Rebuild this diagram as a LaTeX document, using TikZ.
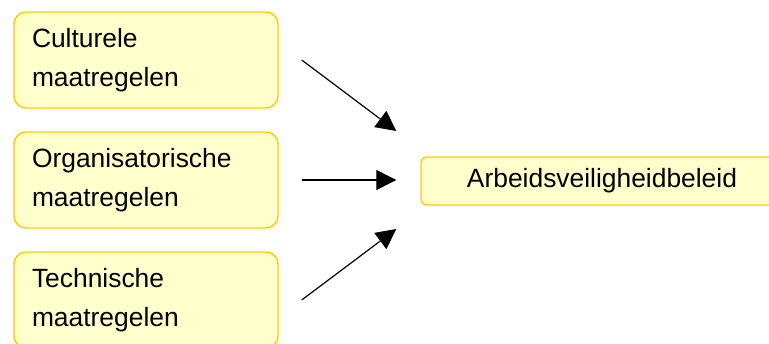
\documentclass[tikz,border=0pt]{standalone}
\usepackage{fontspec}
\setmainfont{Liberation Sans}
\usepackage{tikz}
\usetikzlibrary{arrows.meta}
\definecolor{boxfill}{RGB}{255,255,204}
\definecolor{boxline}{RGB}{255,204,0}

\begin{document}
\begin{tikzpicture}[x=1pt, y=-1pt, every node/.style={draw=boxline, fill=boxfill, line width=1.4pt, font=\fontsize{26.4}{39}\selectfont},
	maat/.style={rounded corners=12pt, minimum width=264pt, minimum height=96pt, text width=228pt, align=left, inner xsep=18pt, inner ysep=0pt},
	doel/.style={rounded corners=6pt, minimum width=362pt, minimum height=48pt, inner sep=0pt},
	pijl/.style={line width=1.2pt, -{Triangle[length=20pt,width=20pt]}}]
			\useasboundingbox (0,0) rectangle (769,343);
			\node[maat](C) at (146, 60) {Culturele\\maatregelen};
			\node[maat](O) at (146, 180) {Organisatorische\\maatregelen};
			\node[maat](T) at (146, 300) {Technische\\maatregelen};
			\node[doel](B) at (602, 181) {Arbeidsveiligheidbeleid};
			\coordinate (C1) at ([shift={(23,0)}]C.east);
			\coordinate (O1) at ([shift={(23,0)}]O.east);
			\coordinate (T1) at ([shift={(23,0)}]T.east);
			\coordinate (B1) at ([shift={(-24,-50)}]B.west);
			\coordinate (B2) at ([shift={(-24,-1)}]B.west);
			\coordinate (B3) at ([shift={(-24,48)}]B.west);
			\draw[pijl](C1) -- (B1);
			\draw[pijl](O1) -- (B2);
			\draw[pijl](T1) -- (B3);
		\end{tikzpicture}
\end{document}
